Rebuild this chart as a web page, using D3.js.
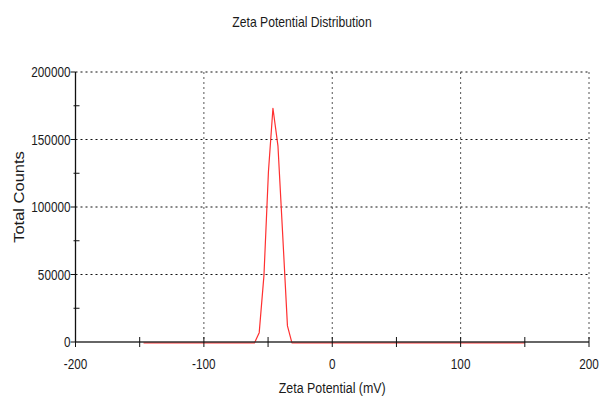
<!DOCTYPE html>
<html><head><meta charset="utf-8">
<script src="https://cdn.jsdelivr.net/npm/d3@7"></script>
<style>body{margin:0;background:#fff}svg{display:block}text{font-family:"Liberation Sans",Arial,sans-serif;fill:#1a1a1a}</style>
</head><body>
<svg id="c" width="602" height="399"></svg>
<script>
const title = "Zeta Potential Distribution";
const xLabel = "Zeta Potential (mV)";
const yLabel = "Total Counts";
const potential = [-147, -60.6, -56.9, -53.2, -49.7, -46.2, -42.3, -38.6, -34.9, -31.4, 150];
const counts    = [0, 0, 7600, 50000, 127000, 173800, 146000, 80000, 12600, 0, 0];
const xMajorTicks = [-200, -100, 0, 100, 200];
const xMinorTicks = [-150, -50, 50, 150];
const yMajorTicks = [0, 50000, 100000, 150000, 200000];
const yMinorTicks = [25000, 75000, 125000, 175000];

const svg = d3.select("#c");
const L = 75.5, R = 589, T = 72, B = 342;
const SX = 0.84; // horizontal compression of the reference's lettering
const x = d3.scaleLinear().domain([-200, 200]).range([L, R]);
const y = d3.scaleLinear().domain([0, 200000]).range([B, T]);

// grid
const g = svg.append("g");
g.selectAll(".hg").data(yMajorTicks.filter(d => d > 0)).join("line")
  .attr("x1", L).attr("x2", R).attr("y1", d => y(d)).attr("y2", d => y(d))
  .attr("stroke", "#111").attr("stroke-width", 1).attr("stroke-dasharray", "2,3");
g.selectAll(".vg").data(xMajorTicks.filter(d => d > -200)).join("line")
  .attr("x1", d => x(d)).attr("x2", d => x(d)).attr("y1", T).attr("y2", B)
  .attr("stroke", "#555").attr("stroke-width", 1).attr("stroke-dasharray", "2,3");

// data line
const line = d3.line().x((d, i) => x(potential[i])).y(d => y(d));
svg.append("path").datum(counts).attr("d", line)
  .attr("fill", "none").attr("stroke", "#ff3030").attr("stroke-width", 1.2)
  .attr("stroke-linejoin", "round")
  .attr("transform", "translate(0,0.9)");

// axes
const xAxis = svg.append("g").attr("transform", `translate(0,${B})`);
xAxis.append("line").attr("x1", L).attr("x2", R).attr("stroke", "#333").attr("stroke-width", 1.3);
xAxis.selectAll(".xt").data(xMajorTicks.concat(xMinorTicks)).join("line")
  .attr("x1", d => x(d)).attr("x2", d => x(d)).attr("y1", -5).attr("y2", 5)
  .attr("stroke", "#111").attr("stroke-width", 1);
xAxis.selectAll(".xl").data(xMajorTicks).join("text")
  .attr("transform", d => `translate(${x(d)},27) scale(${SX},1)`).attr("text-anchor", "middle")
  .attr("font-size", 14).text(d => String(d));

const yAxis = svg.append("g").attr("transform", `translate(${L},0)`);
yAxis.append("line").attr("y1", T).attr("y2", B).attr("stroke", "#111").attr("stroke-width", 1.3);
yAxis.selectAll(".yt").data(yMajorTicks).join("line")
  .attr("x1", -5).attr("x2", 0).attr("y1", d => y(d)).attr("y2", d => y(d))
  .attr("stroke", "#111");
yAxis.selectAll(".ym").data(yMinorTicks).join("line")
  .attr("x1", -2).attr("x2", 4).attr("y1", d => y(d)).attr("y2", d => y(d))
  .attr("stroke", "#111");
yAxis.selectAll(".yl").data(yMajorTicks).join("text")
  .attr("transform", d => `translate(-5,${y(d) + 5}) scale(${SX},1)`).attr("text-anchor", "end")
  .attr("font-size", 14).text(d => String(d));

svg.append("text").attr("transform", `translate(302,27) scale(${SX},1)`).attr("text-anchor", "middle")
  .attr("font-size", 14.5).text(title);
svg.append("text").attr("transform", `translate(${x(0)},393) scale(${SX},1)`).attr("text-anchor", "middle")
  .attr("font-size", 14.8).text(xLabel);
svg.append("text").attr("transform", `translate(24,197) scale(${SX},1) rotate(-90)`).attr("text-anchor", "middle")
  .attr("font-size", 16.5).text(yLabel);
</script>
</body></html>
